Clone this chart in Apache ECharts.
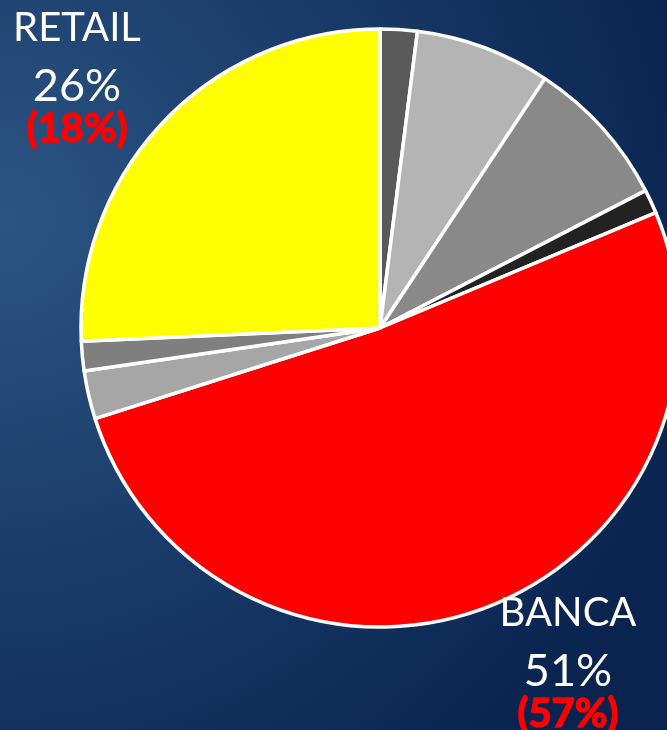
<!DOCTYPE html>
<html>
<head>
<meta charset="utf-8">
<script src="https://cdn.jsdelivr.net/npm/echarts@6/dist/echarts.min.js"></script>
<style>
  html, body { margin: 0; padding: 0; }
  #main { width: 667px; height: 730px; }
</style>
</head>
<body>
<div id="main"></div>
<script>
// 扇区数据（顺时针，从12点方向开始）
var sliceNames = ["A", "B", "C", "D", "BANCA", "E", "F", "RETAIL"];
var sliceValues = [2.0, 7.3, 8.1, 1.3, 51.4, 2.6, 1.6, 25.7];
var sliceColors = ["#595959", "#b4b4b4", "#898989", "#222222", "#ff0000", "#a6a6a6", "#7f7f7f", "#ffff00"];

// 标注文字
var labelNames = ["RETAIL", "BANCA"];
var labelShares = ["26%", "51%"];
var labelPrev = ["(18%)", "(57%)"];

var chart = echarts.init(document.getElementById("main"));

// 标注位置（文字中心点）
var labelPos = [[77, 28], [568, 613]];
var graphics = [];
labelNames.forEach(function (name, i) {
  var x = labelPos[i][0], y = labelPos[i][1];
  graphics.push({
    type: "text", x: x, y: y, z: 10,
    style: { text: name, fill: "#ffffff", fontSize: 40, fontFamily: "Lato", align: "center", verticalAlign: "middle" }
  });
  graphics.push({
    type: "text", x: x, y: y + 58, z: 10,
    style: { text: labelShares[i], fill: "#ffffff", fontSize: 45, fontFamily: "Lato", align: "center", verticalAlign: "middle" }
  });
  // 加一点描边让粗体更重
  graphics.push({
    type: "text", x: x, y: y + 101, z: 10,
    style: {
      text: labelPrev[i], fill: "#ff0000", fontSize: 40, fontWeight: "bold", fontFamily: "Lato",
      stroke: "#ff0000", lineWidth: 1.5, align: "center", verticalAlign: "middle"
    }
  });
});

chart.setOption({
  backgroundColor: {
    type: "radial", x: 0.0, y: 0.3, r: 1.1,
    colorStops: [
      { offset: 0, color: "#2c5584" },
      { offset: 0.45, color: "#1b3d6b" },
      { offset: 1, color: "#0a234f" }
    ]
  },
  animation: false,
  graphic: graphics,
  series: [{
    type: "pie",
    center: [380, 328],
    radius: 299,
    startAngle: 90,
    clockwise: true,
    label: { show: false },
    labelLine: { show: false },
    itemStyle: { borderColor: "#ffffff", borderWidth: 3.5 },
    emphasis: { disabled: true },
    data: sliceNames.map(function (n, i) {
      return { name: n, value: sliceValues[i], itemStyle: { color: sliceColors[i] } };
    })
  }]
});
</script>
</body>
</html>
